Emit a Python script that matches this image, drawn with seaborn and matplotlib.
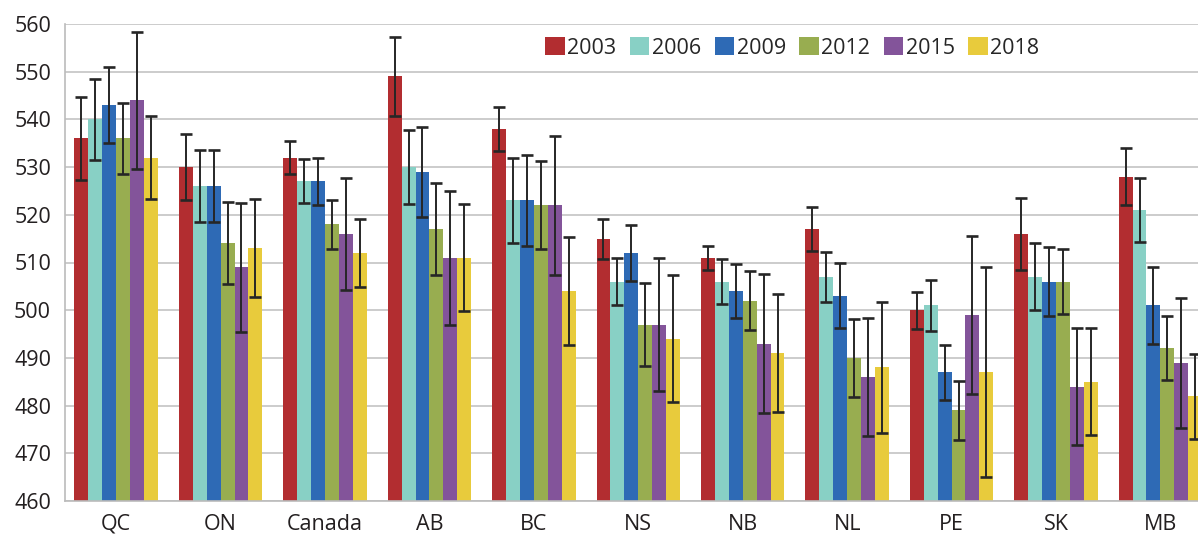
import matplotlib
matplotlib.use("Agg")
import matplotlib.pyplot as plt
import seaborn as sns
import pandas as pd

# Mean scores by province and survey year
provinces = ["QC", "ON", "Canada", "AB", "BC", "NS", "NB", "NL", "PE", "SK", "MB"]
years = ["2003", "2006", "2009", "2012", "2015", "2018"]

scores_2003 = [536, 530, 532, 549, 538, 515, 511, 517, 500, 516, 528]
scores_2006 = [540, 526, 527, 530, 523, 506, 506, 507, 501, 507, 521]
scores_2009 = [543, 526, 527, 529, 523, 512, 504, 503, 487, 506, 501]
scores_2012 = [536, 514, 518, 517, 522, 497, 502, 490, 479, 506, 492]
scores_2015 = [544, 509, 516, 511, 522, 497, 493, 486, 499, 484, 489]
scores_2018 = [532, 513, 512, 511, 504, 494, 491, 488, 487, 485, 482]

# Half-width of the confidence intervals (error bars)
err_2003 = [8.6, 7.0, 3.4, 8.3, 4.6, 4.2, 2.5, 4.6, 3.9, 7.5, 6.0]
err_2006 = [8.5, 7.5, 4.6, 7.7, 8.9, 5.0, 4.8, 5.3, 5.3, 7.0, 6.7]
err_2009 = [8.0, 7.5, 5.0, 9.4, 9.6, 5.8, 5.7, 6.8, 5.8, 7.3, 8.0]
err_2012 = [7.5, 8.6, 5.2, 9.7, 9.2, 8.6, 6.2, 8.2, 6.2, 6.9, 6.7]
err_2015 = [14.3, 13.5, 11.8, 14.0, 14.6, 14.0, 14.6, 12.3, 16.5, 12.2, 13.6]
err_2018 = [8.7, 10.3, 7.2, 11.2, 11.4, 13.3, 12.3, 13.7, 22.0, 11.2, 8.9]

colors = ["#B22D30", "#88D0C5", "#2E6AB5", "#98AD50", "#83549A", "#E8CB3C"]

scores = [scores_2003, scores_2006, scores_2009, scores_2012, scores_2015, scores_2018]
errors = [err_2003, err_2006, err_2009, err_2012, err_2015, err_2018]

rows = []
for year, vals in zip(years, scores):
    for prov, v in zip(provinces, vals):
        rows.append({"province": prov, "year": year, "score": v})
df = pd.DataFrame(rows)

sns.set_style("white")
plt.rcParams["font.family"] = ["Open Sans", "DejaVu Sans"]

fig = plt.figure(figsize=(11.98, 5.36), dpi=100)
ax = fig.add_axes([65 / 1198, 1 - 501 / 536, 1 - 65 / 1198, 477 / 536])

sns.barplot(data=df, x="province", y="score", hue="year", order=provinces,
            hue_order=years, palette=colors, errorbar=None, width=0.8,
            saturation=1, linewidth=0, ax=ax, zorder=2)

# error bars on top of each bar
for cont, errs in zip(ax.containers, errors):
    xs = [b.get_x() + b.get_width() / 2 for b in cont]
    ys = [b.get_height() for b in cont]
    ax.errorbar(xs, ys, yerr=errs, fmt="none", ecolor="#262626",
                elinewidth=1.4, capsize=4.5, capthick=1.9, zorder=3)

ax.set_ylim(460, 560)
ax.set_xlim(-0.49, 10.36)
ax.set_yticks(range(460, 561, 10))
ax.yaxis.grid(True, color="#C4C4C4", linewidth=1.2, zorder=0)
ax.set_axisbelow(True)
ax.set_xlabel("")
ax.set_ylabel("")

for side in ["top", "right"]:
    ax.spines[side].set_visible(False)
for side in ["left", "bottom"]:
    ax.spines[side].set_color("#BBBBBB")
    ax.spines[side].set_linewidth(1.2)

ax.tick_params(axis="y", labelsize=15.5, colors="#BBBBBB", labelcolor="#231F20",
               direction="in", length=8, width=1.2, pad=10)
ax.tick_params(axis="x", labelsize=15.5, labelcolor="#231F20", length=0, pad=9)

handles, labels = ax.get_legend_handles_labels()
ax.legend(handles, labels, ncol=6, frameon=False, fontsize=15.5,
          loc="center left", bbox_to_anchor=(0.424, 0.95),
          borderpad=0, borderaxespad=0, handlelength=0.9, handleheight=0.9,
          handletextpad=0.12, columnspacing=0.63)

fig.savefig("out.png", dpi=100, facecolor="white")
